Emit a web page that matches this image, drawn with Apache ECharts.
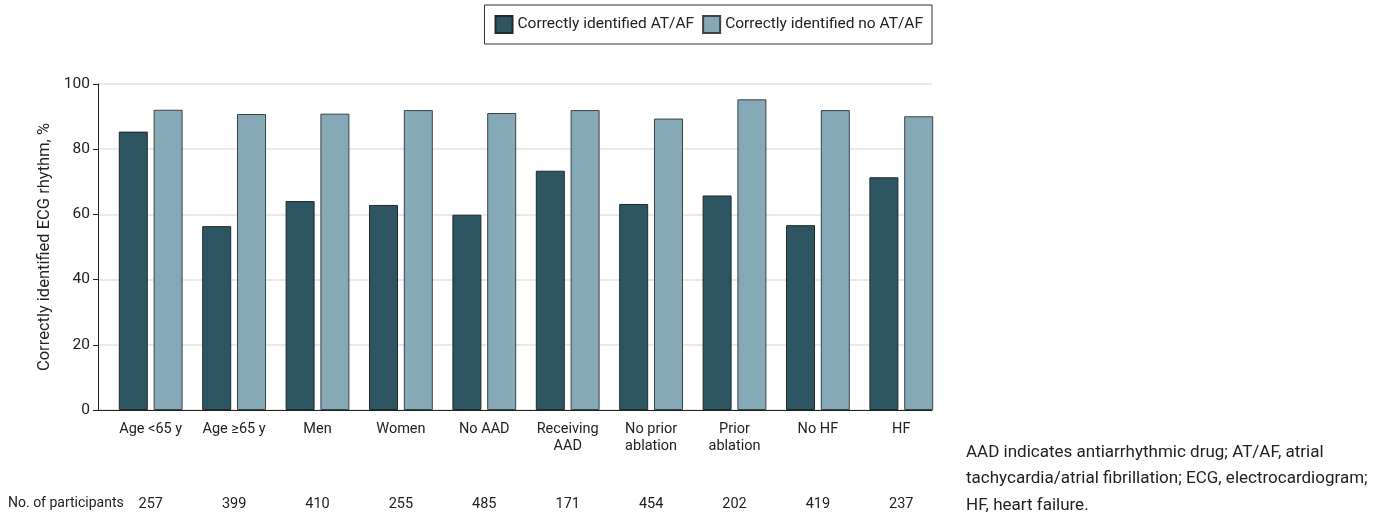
<!DOCTYPE html>
<html>
<head>
<meta charset="utf-8">
<script src="https://cdn.jsdelivr.net/npm/echarts@6/dist/echarts.min.js"></script>
<style>
  html, body { margin: 0; padding: 0; background: #fff; }
  #chart { width: 1388px; height: 516px; }
</style>
</head>
<body>
<div id="chart"></div>
<script>
// subgroup labels along the x axis
const categories = ['Age <65 y', 'Age \u226565 y', 'Men', 'Women', 'No AAD', 'Receiving\nAAD',
  'No prior\nablation', 'Prior\nablation', 'No HF', 'HF'];
// % correctly identified
const identifiedAF = [85.4, 56.4, 64.1, 62.9, 59.9, 73.4, 63.2, 65.8, 56.7, 71.4];
const identifiedNoAF = [92.1, 90.8, 90.9, 92.0, 91.1, 92.0, 89.4, 95.3, 92.0, 90.1];
// participants per subgroup
const participants = [257, 399, 410, 255, 485, 171, 454, 202, 419, 237];
const yTicks = [0, 20, 40, 60, 80, 100];

const font = 'Roboto';
const chart = echarts.init(document.getElementById('chart'));

const option = {
  animation: false,
  textStyle: { fontFamily: font },
  legend: {
    right: 456,
    top: 5,
    orient: 'horizontal',
    padding: [10, 9, 10, 10],
    borderColor: '#333',
    borderWidth: 1,
    itemWidth: 17,
    itemHeight: 17,
    itemGap: 8,
    icon: 'rect',
    textStyle: { fontSize: 15.5, color: '#222', fontFamily: font },
    data: ['Correctly identified AT/AF', 'Correctly identified no AT/AF']
  },
  grid: [
    { left: 98, right: 456, top: 84, bottom: 106 },
    { left: 109, right: 445, top: 84, bottom: 106 }
  ],
  xAxis: [
    {
      gridIndex: 0, type: 'value', min: 0, max: 1,
      axisLine: { show: true, lineStyle: { color: '#222', width: 1 } },
      axisTick: { show: false }, axisLabel: { show: false }, splitLine: { show: false }
    },
    {
      gridIndex: 1, type: 'category', data: categories,
      axisLine: { show: false }, axisTick: { show: false },
      axisLabel: { color: '#222', fontSize: 14.5, lineHeight: 17, margin: 11, interval: 0 }
    },
    {
      gridIndex: 1, type: 'category', data: categories, position: 'bottom', offset: 82,
      axisLine: { show: false }, axisTick: { show: false },
      axisLabel: {
        color: '#222', fontSize: 14.5, margin: 5, interval: 0,
        formatter: (v, i) => String(participants[i])
      }
    }
  ],
  yAxis: [
    {
      gridIndex: 0, type: 'value', min: yTicks[0], max: yTicks[yTicks.length - 1], interval: 20,
      name: 'Correctly identified ECG rhythm, %',
      nameLocation: 'middle', nameGap: 42,
      nameTextStyle: { color: '#222', fontSize: 16.5 },
      axisLine: { show: true, lineStyle: { color: '#222', width: 1 } },
      axisTick: { show: true, length: 5, lineStyle: { color: '#222' } },
      axisLabel: { color: '#222', fontSize: 15.5, margin: 8 },
      splitLine: { show: true, lineStyle: { color: '#e2e2e2', width: 1.5 } }
    },
    {
      gridIndex: 1, type: 'value', min: 0, max: 100, show: false
    }
  ],
  series: [
    {
      name: 'Correctly identified AT/AF', type: 'bar',
      xAxisIndex: 1, yAxisIndex: 1,
      data: identifiedAF, barWidth: 29, barGap: '20%',
      itemStyle: { color: '#2e5562', borderColor: '#1f2a2e', borderWidth: 1 }
    },
    {
      name: 'Correctly identified no AT/AF', type: 'bar',
      xAxisIndex: 1, yAxisIndex: 1,
      data: identifiedNoAF, barWidth: 29,
      itemStyle: { color: '#86a9b8', borderColor: '#3a4347', borderWidth: 1 }
    }
  ],
  graphic: [
    {
      type: 'text', left: 8, top: 496,
      style: { text: 'No. of participants', font: '14px ' + font, fill: '#222' }
    },
    {
      type: 'text', left: 966, top: 439,
      style: {
        text: 'AAD indicates antiarrhythmic drug; AT/AF, atrial\ntachycardia/atrial fibrillation; ECG, electrocardiogram;\nHF, heart failure.',
        font: '17px ' + font, fill: '#222', lineHeight: 26.5
      }
    }
  ]
};

chart.setOption(option);
</script>
</body>
</html>
